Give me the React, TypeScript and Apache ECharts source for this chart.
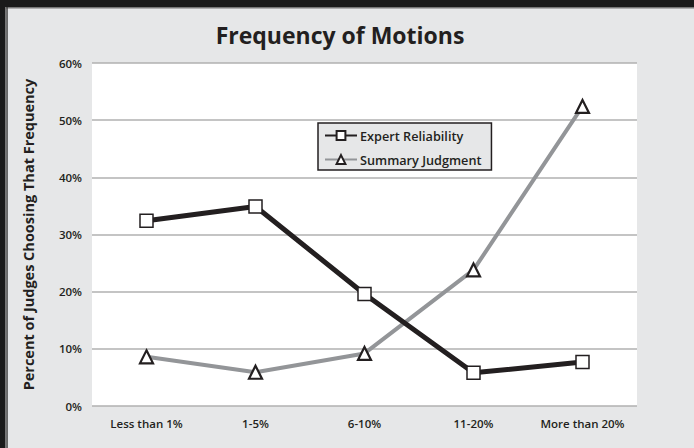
import React, { useEffect, useRef } from "react";
import * as echarts from "echarts";

const categories = ["Less than 1%", "1-5%", "6-10%", "11-20%", "More than 20%"];
const expertReliability = [32.4, 34.9, 19.6, 5.8, 7.7];
const summaryJudgment = [8.6, 5.9, 9.2, 23.8, 52.4];
const yTicks = [0, 10, 20, 30, 40, 50, 60];

const FONT = "'Open Sans', Lato, 'DejaVu Sans', sans-serif";
const TEXT = "#231f20";

export default function App() {
  const ref = useRef<HTMLDivElement>(null);
  useEffect(() => {
    if (!ref.current) return;
    const chart = echarts.init(ref.current, undefined, { renderer: "svg" });
    chart.setOption({
      animation: false,
      backgroundColor: "#e6e7e8",
      textStyle: { fontFamily: FONT, color: TEXT },
      graphic: [
        { type: "rect", shape: { x: 0, y: 0, width: 694, height: 7 }, style: { fill: "#1a1a1a" } },
        { type: "rect", shape: { x: 0, y: 7, width: 694, height: 1.5 }, style: { fill: "#777" } },
        { type: "rect", shape: { x: 0, y: 0, width: 5, height: 448 }, style: { fill: "#1a1a1a" } },
        { type: "rect", shape: { x: 5, y: 7, width: 1.5, height: 441 }, style: { fill: "#777" } },
        { type: "rect", shape: { x: 6.5, y: 7, width: 1.2, height: 441 }, style: { fill: "#333" } },
        {
          type: "text",
          x: 340,
          y: 35,
          style: {
            text: "Frequency of Motions",
            fontFamily: FONT,
            fontWeight: "bold",
            fontSize: 23,
            fill: TEXT,
            textAlign: "center",
            textVerticalAlign: "middle",
          },
        },
      ],
      grid: { left: 92, right: 57, top: 63, bottom: 42, backgroundColor: "#fff", show: true, borderWidth: 0 },
      legend: {
        orient: "vertical",
        left: 318,
        top: 123,
        backgroundColor: "#e6e7e8",
        borderColor: TEXT,
        borderWidth: 1.5,
        borderRadius: 0,
        padding: [6, 10, 4, 6],
        itemGap: 11,
        itemWidth: 32,
        itemHeight: 11,
        textStyle: { fontFamily: FONT, fontSize: 12.7, fontWeight: 600, color: TEXT, padding: [0, 0, 0, -2] },
        data: ["Expert Reliability", "Summary Judgment"],
      },
      xAxis: {
        type: "category",
        data: categories,
        boundaryGap: true,
        axisLine: { show: false },
        axisTick: { show: false },
        axisLabel: { interval: 0, fontFamily: FONT, fontSize: 11.5, fontWeight: 600, color: TEXT, margin: 11 },
      },
      yAxis: {
        type: "value",
        min: 0,
        max: yTicks[yTicks.length - 1],
        interval: 10,
        name: "Percent of Judges Choosing That Frequency",
        nameLocation: "middle",
        nameRotate: 90,
        nameGap: 56,
        nameTextStyle: { fontFamily: FONT, fontSize: 14.5, fontWeight: "bold", color: TEXT },
        axisLine: { show: false },
        axisTick: { show: false },
        axisLabel: { fontFamily: FONT, fontSize: 11.5, fontWeight: 600, color: TEXT, margin: 10, formatter: "{value}%" },
        splitLine: { show: true, lineStyle: { color: "#b0b0b0", width: 1.5 } },
      },
      series: [
        {
          name: "Summary Judgment",
          type: "line",
          data: summaryJudgment,
          z: 2,
          lineStyle: { color: "#939598", width: 4 },
          symbol: "triangle",
          symbolSize: 13,
          itemStyle: { color: "#fff", borderColor: TEXT, borderWidth: 2.2 },
        },
        {
          name: "Expert Reliability",
          type: "line",
          data: expertReliability,
          z: 3,
          lineStyle: { color: TEXT, width: 5 },
          symbol: "rect",
          symbolSize: 13,
          itemStyle: { color: "#fff", borderColor: TEXT, borderWidth: 1.5 },
        },
      ],
    });
    return () => chart.dispose();
  }, []);
  return <div ref={ref} style={{ position: "fixed", left: 0, top: 0, width: 694, height: 448 }} />;
}
